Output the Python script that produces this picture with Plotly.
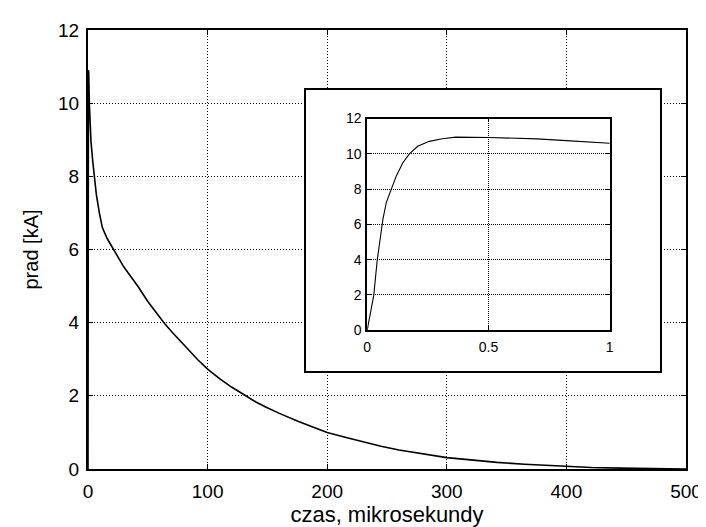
import plotly.graph_objects as go

# Main curve: current [kA] vs time [microseconds]
main_t = [0, 0.35, 0.6, 1.1, 2.5, 4, 5.2, 7, 9.5, 12, 16, 21, 25, 30, 36, 42, 50, 57, 64,
          70, 77, 85, 92, 100, 110, 120, 130, 140, 149, 160, 176, 188, 200, 215, 230, 245,
          260, 274, 287, 300, 320, 342, 365, 387, 400, 421, 445, 471, 476, 500]
main_i = [0, 10.9, 10.85, 10.0, 8.95, 8.4, 8.0, 7.5, 7.0, 6.6, 6.3, 6.0, 5.8, 5.52, 5.25,
          4.98, 4.58, 4.27, 3.98, 3.75, 3.5, 3.22, 2.98, 2.73, 2.47, 2.24, 2.03, 1.84, 1.69,
          1.52, 1.3, 1.14, 1.0, 0.87, 0.74, 0.62, 0.52, 0.45, 0.37, 0.31, 0.25, 0.18, 0.13,
          0.09, 0.08, 0.04, 0.025, 0.015, 0.0, 0.0]

# Inset curve: first microsecond
inset_t = [0, 0.018, 0.027, 0.041, 0.054, 0.065, 0.079, 0.099, 0.12, 0.147, 0.174, 0.208,
           0.256, 0.31, 0.365, 0.5, 0.62, 0.7, 0.82, 0.9, 1.0]
inset_i = [0, 1.27, 1.98, 3.94, 5.38, 6.32, 7.25, 7.96, 8.75, 9.5, 10.0, 10.43, 10.71,
           10.86, 10.95, 10.93, 10.9, 10.85, 10.75, 10.7, 10.6]

main_xticks = [0, 100, 200, 300, 400, 500]
main_yticks = [0, 2, 4, 6, 8, 10, 12]
inset_xticks = [0, 0.5, 1]
inset_xlabels = ["0", "0.5", "1"]
inset_yticks = [0, 2, 4, 6, 8, 10, 12]

FONT = "Liberation Sans, Arial, sans-serif"

fig = go.Figure()
fig.add_trace(go.Scatter(x=main_t, y=main_i, mode="lines",
                         line=dict(color="black", width=1.6), xaxis="x", yaxis="y",
                         hoverinfo="skip"))
# white framed box behind the inset
fig.add_trace(go.Scatter(x=[None], y=[None], mode="lines", xaxis="x2", yaxis="y2",
                         hoverinfo="skip"))
fig.add_trace(go.Scatter(x=inset_t, y=inset_i, mode="lines",
                         line=dict(color="black", width=1.1), xaxis="x3", yaxis="y3",
                         hoverinfo="skip"))


def grid(dash):
    return dict(showgrid=True, gridcolor="black", gridwidth=1, griddash=dash,
                zeroline=False, showline=True, linecolor="black", mirror="ticks",
                ticks="inside", tickcolor="black")


fig.update_layout(
    width=706, height=527,
    margin=dict(l=80, r=22, t=18, b=63),
    paper_bgcolor="white", plot_bgcolor="white",
    showlegend=False,
    font=dict(family=FONT, color="black"),
    xaxis=dict(domain=[0, 1], range=[0, 500], tickvals=main_xticks, linewidth=2,
               ticklen=5, tickwidth=1, tickfont=dict(size=19), ticklabelstandoff=4,
               title=dict(text="czas, mikrosekundy", font=dict(size=22), standoff=6),
               **grid("1px,2px")),
    yaxis=dict(domain=[0, 1], range=[0, 12], tickvals=main_yticks, linewidth=2,
               ticklen=5, tickwidth=1, tickfont=dict(size=19), ticklabelstandoff=3,
               title=dict(text="prad [kA]", font=dict(size=20), standoff=14),
               **grid("1px,2px")),
    xaxis2=dict(domain=[0.3642, 0.957], anchor="y2", range=[0, 1], showgrid=False,
                zeroline=False, showticklabels=False, ticks="", showline=True,
                linecolor="black", linewidth=2, mirror=True, fixedrange=True),
    yaxis2=dict(domain=[0.2242, 0.8632], anchor="x2", range=[0, 1], showgrid=False,
                zeroline=False, showticklabels=False, ticks="", showline=True,
                linecolor="black", linewidth=2, mirror=True, fixedrange=True),
    xaxis3=dict(domain=[0.4669, 0.8725], anchor="y3", range=[0, 1], tickvals=inset_xticks,
                ticktext=inset_xlabels, linewidth=1.5, ticklen=4, tickwidth=1,
                tickfont=dict(size=14), ticklabelstandoff=3, **grid("1px,1px")),
    yaxis3=dict(domain=[0.3161, 0.7982], anchor="x3", range=[0, 12], tickvals=inset_yticks,
                linewidth=1.5, ticklen=4, tickwidth=1, tickfont=dict(size=14),
                ticklabelstandoff=1, **grid("1px,1px")),
)

fig.write_html("out.html")
